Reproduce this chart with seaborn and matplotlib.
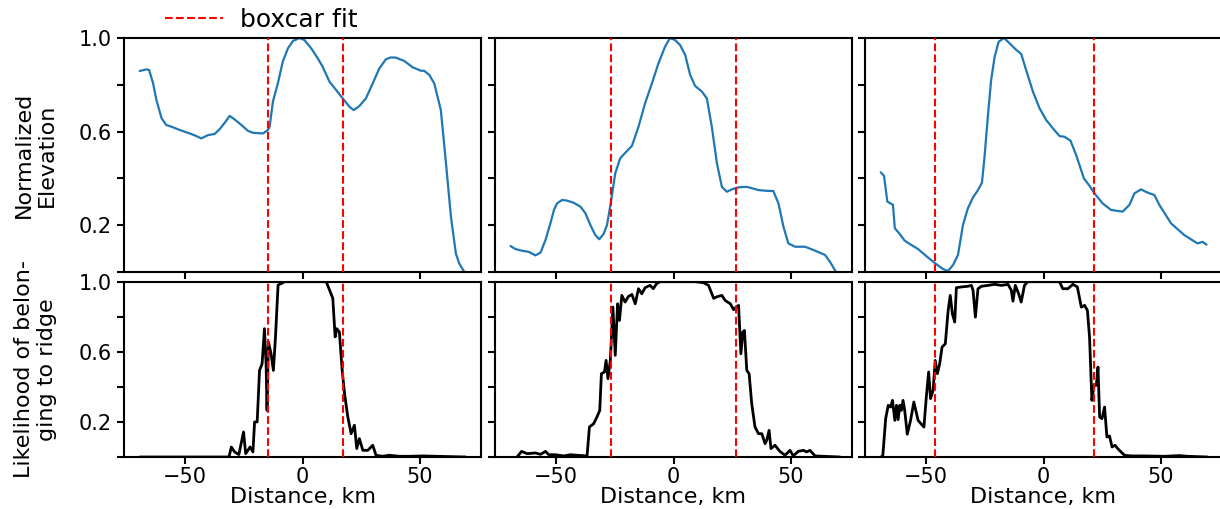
import matplotlib
matplotlib.use("Agg")
import matplotlib.pyplot as plt
from matplotlib.lines import Line2D
import seaborn as sns

# elevation profiles (normalized), one per ridge
elev_x1 = [-69.3, -66.4, -65.3, -63.6, -62.2, -60.0, -58.0, -55.8, -52.3, -48.0, -45.2, -43.1,
           -40.2, -37.4, -35.3, -33.1, -31.0, -28.9, -26.0, -23.2, -21.1, -16.8, -14.7, -14.0,
           -12.6, -10.5, -8.4, -6.2, -4.1, -1.3, 0.85, 3.7, 6.5, 8.6, 11.5, 14.3, 17.1, 20.0,
           21.8, 24.2, 27.0, 29.9, 32.7, 35.5, 37.6, 39.8, 43.3, 46.9, 50.4, 51.8, 54.0, 56.1,
           58.9, 61.1, 63.2, 65.3, 66.7, 68.9]
elev_y1 = [0.859, 0.866, 0.863, 0.806, 0.735, 0.657, 0.628, 0.621, 0.607, 0.592, 0.581, 0.571,
           0.585, 0.590, 0.610, 0.638, 0.667, 0.652, 0.628, 0.603, 0.595, 0.592, 0.607, 0.621,
           0.728, 0.806, 0.899, 0.956, 0.987, 1.0, 0.991, 0.956, 0.913, 0.877, 0.813, 0.778,
           0.742, 0.706, 0.692, 0.709, 0.742, 0.806, 0.870, 0.909, 0.917, 0.916, 0.902, 0.875,
           0.860, 0.860, 0.842, 0.806, 0.692, 0.464, 0.236, 0.079, 0.037, 0.0]

elev_x2 = [-69.4, -67.3, -64.5, -61.6, -58.8, -56.6, -54.5, -52.4, -50.9, -49.6, -47.4, -45.3,
           -42.5, -39.6, -37.5, -35.4, -33.3, -31.6, -29.8, -28.3, -26.5, -24.8, -22.7, -20.5,
           -17.7, -14.9, -12.1, -9.2, -6.4, -3.6, -1.5, 0.7, 2.8, 5.0, 7.1, 9.2, 12.1, 14.2,
           16.3, 18.5, 20.6, 22.7, 24.8, 27.7, 31.2, 36.2, 39.7, 42.5, 44.7, 46.8, 48.9, 51.8,
           56.0, 60.3, 64.5, 66.6, 69.2]
elev_y2 = [0.111, 0.098, 0.091, 0.086, 0.071, 0.083, 0.137, 0.208, 0.265, 0.293, 0.308, 0.305,
           0.296, 0.279, 0.251, 0.201, 0.158, 0.140, 0.162, 0.201, 0.308, 0.422, 0.486, 0.510,
           0.539, 0.621, 0.721, 0.806, 0.892, 0.963, 1.0, 0.991, 0.970, 0.927, 0.842, 0.795,
           0.771, 0.742, 0.621, 0.464, 0.364, 0.343, 0.353, 0.362, 0.364, 0.350, 0.347, 0.346,
           0.293, 0.194, 0.122, 0.108, 0.108, 0.091, 0.073, 0.044, 0.0]

elev_x3 = [-69.3, -67.9, -66.5, -64.1, -63.3, -61.2, -59.1, -56.2, -53.4, -49.9, -45.6, -42.8,
           -40.7, -38.5, -36.4, -34.3, -32.2, -30.0, -27.9, -26.2, -25.1, -23.7, -22.3, -20.8,
           -19.1, -16.8, -14.4, -11.6, -9.5, -7.4, -4.5, -1.7, 1.1, 4.0, 6.8, 8.9, 11.5, 13.9,
           17.2, 19.6, 21.7, 25.2, 28.8, 33.7, 36.6, 38.7, 41.5, 44.4, 47.2, 49.3, 54.3, 59.9,
           65.6, 67.7, 69.4]
elev_y3 = [0.426, 0.411, 0.301, 0.287, 0.187, 0.162, 0.134, 0.115, 0.098, 0.068, 0.033, 0.013,
           0.004, 0.030, 0.073, 0.201, 0.272, 0.319, 0.350, 0.382, 0.493, 0.664, 0.820, 0.920,
           0.984, 1.0, 0.977, 0.949, 0.932, 0.863, 0.771, 0.700, 0.650, 0.614, 0.581, 0.578,
           0.561, 0.500, 0.400, 0.368, 0.336, 0.293, 0.265, 0.258, 0.287, 0.336, 0.353, 0.339,
           0.329, 0.287, 0.208, 0.158, 0.122, 0.129, 0.117]

# likelihood of belonging to ridge
like_x1 = [-69.3, -31.3, -30.3, -28.9, -27.1, -25.1, -24.2, -22.3, -21.1, -20.4, -19.3, -18.3,
           -17.2, -16.2, -15.5, -15.1, -14.5, -13.4, -12.4, -11.5, -10.4, -8.4, -7.7, 10.1,
           11.5, 12.9, 13.9, 14.6, 15.7, 16.9, 17.9, 19.3, 20.7, 22.1, 23.1, 24.2, 25.7, 27.8,
           29.9, 31.3, 34.1, 37.0, 41.2, 45.5, 51.2, 69.5]
like_y1 = [0.0, 0.0, 0.057, 0.029, 0.014, 0.143, 0.019, 0.057, 0.029, 0.200, 0.200, 0.494,
           0.532, 0.732, 0.532, 0.266, 0.656, 0.589, 0.494, 0.685, 0.981, 0.994, 1.0, 1.0,
           0.953, 0.905, 0.685, 0.732, 0.713, 0.494, 0.361, 0.228, 0.133, 0.181, 0.048, 0.105,
           0.038, 0.038, 0.067, 0.010, 0.004, 0.010, 0.004, 0.004, 0.006, 0.0]

like_x2 = [-66.6, -64.7, -62.3, -58.8, -56.6, -54.5, -53.1, -50.3, -46.7, -43.9, -41.1, -36.8,
           -35.8, -34.0, -32.6, -31.4, -30.7, -29.4, -28.7, -27.9, -26.9, -25.8, -24.8, -23.8,
           -23.0, -22.0, -20.6, -19.2, -17.7, -16.3, -14.9, -13.5, -12.1, -10.0, -8.6, -7.2,
           -5.7, 9.2, 12.8, 14.9, 17.1, 18.5, 20.6, 22.0, 24.2, 25.6, 26.6, 27.7, 28.7, 29.5,
           30.2, 31.2, 32.2, 33.3, 34.7, 36.2, 37.6, 39.0, 39.7, 40.7, 41.5, 43.2, 45.3, 47.5,
           49.6, 51.0, 53.1, 55.3, 56.7, 58.1, 60.3, 70.9]
like_y2 = [0.0, 0.032, 0.019, 0.023, 0.015, 0.032, 0.013, 0.013, 0.006, 0.013, 0.010, 0.006,
           0.171, 0.190, 0.228, 0.266, 0.475, 0.485, 0.551, 0.447, 0.551, 0.855, 0.580, 0.874,
           0.779, 0.922, 0.884, 0.916, 0.927, 0.874, 0.960, 0.931, 0.966, 0.979, 0.960, 0.989,
           1.0, 1.0, 0.994, 0.979, 0.905, 0.914, 0.922, 0.893, 0.874, 0.840, 0.855, 0.865,
           0.589, 0.713, 0.722, 0.494, 0.475, 0.304, 0.171, 0.133, 0.133, 0.076, 0.095, 0.152,
           0.048, 0.067, 0.032, 0.010, 0.038, 0.006, 0.032, 0.038, 0.029, 0.038, 0.006, 0.0]

like_x3 = [-69.1, -68.4, -67.2, -66.1, -65.1, -64.3, -63.3, -62.6, -61.9, -61.2, -60.5, -59.8,
           -59.1, -58.0, -56.6, -55.2, -53.4, -52.0, -50.9, -49.9, -48.9, -48.1, -47.0, -46.1,
           -45.2, -44.2, -43.2, -41.8, -40.6, -39.7, -38.8, -37.8, -37.1, -35.0, -32.2, -30.7,
           -30.0, -29.0, -27.9, -26.4, -23.6, -20.8, -17.9, -15.1, -13.7, -13.0, -12.0, -10.6,
           -9.5, -8.1, -6.7, 6.8, 8.2, 10.4, 12.5, 14.4, 16.1, 17.5, 18.7, 19.6, 20.6, 21.5,
           22.5, 23.2, 23.9, 24.9, 26.0, 27.0, 28.1, 29.2, 30.5, 31.6, 33.0, 34.5, 37.3, 43.0,
           51.5, 57.9, 61.4, 69.9]
like_y3 = [0.0, 0.010, 0.219, 0.295, 0.285, 0.323, 0.209, 0.295, 0.213, 0.295, 0.266, 0.323,
           0.266, 0.130, 0.209, 0.314, 0.209, 0.187, 0.171, 0.342, 0.485, 0.333, 0.380, 0.551,
           0.475, 0.532, 0.627, 0.646, 0.836, 0.922, 0.817, 0.770, 0.966, 0.970, 0.974, 0.979,
           0.951, 0.798, 0.960, 0.974, 0.979, 0.985, 0.979, 0.985, 0.951, 0.889, 0.979, 0.932,
           0.884, 0.979, 1.0, 1.0, 0.960, 0.960, 0.985, 0.970, 0.855, 0.865, 0.836, 0.684,
           0.323, 0.409, 0.409, 0.513, 0.228, 0.219, 0.285, 0.114, 0.120, 0.057, 0.067, 0.048,
           0.029, 0.010, 0.006, 0.006, 0.004, 0.008, 0.004, 0.0]

elev_x = [elev_x1, elev_x2, elev_x3]
elev_y = [elev_y1, elev_y2, elev_y3]
like_x = [like_x1, like_x2, like_x3]
like_y = [like_y1, like_y2, like_y3]

# boxcar fit edges, km
box_left = [-14.8, -26.6, -46.0]
box_right = [17.1, 26.5, 21.4]

y_ticks = [0.0, 0.2, 0.4, 0.6, 0.8, 1.0]
y_ticklabels = ["", "0.2", "", "0.6", "", "1.0"]
x_ticks = [-50, 0, 50]

sns.set_style("ticks", {"axes.edgecolor": "black", "xtick.color": "black",
                        "ytick.color": "black", "text.color": "black",
                        "axes.labelcolor": "black"})
plt.rcParams['font.family'] = ['DejaVu Sans']

W, H = 1220, 509
fig = plt.figure(figsize=(W / 100, H / 100), dpi=100)

col_left = [124, 495, 865]
col_width = 357
rows = [(38, 272), (281.7, 457)]  # top, bottom in pixels

axes = []
for r, (top, bot) in enumerate(rows):
    row_axes = []
    for c in range(3):
        ax = fig.add_axes([col_left[c] / W, 1 - bot / H, col_width / W, (bot - top) / H])
        row_axes.append(ax)
    axes.append(row_axes)

for c in range(3):
    ax_e = axes[0][c]
    ax_l = axes[1][c]
    sns.lineplot(x=elev_x[c], y=elev_y[c], ax=ax_e, color="#1f77b4", linewidth=1.6,
                 sort=False, estimator=None)
    sns.lineplot(x=like_x[c], y=like_y[c], ax=ax_l, color="black", linewidth=2,
                 sort=False, estimator=None)
    for ax in (ax_e, ax_l):
        ax.axvline(box_left[c], color="red", ls="--", lw=1.5, zorder=3)
        ax.axvline(box_right[c], color="red", ls="--", lw=1.5, zorder=3)
        ax.set_xlim(-76, 76)
        ax.set_ylim(0, 1)
        ax.set_xticks(x_ticks)
        ax.set_yticks(y_ticks)
        ax.set_yticklabels(y_ticklabels)
        ax.tick_params(labelsize=15, length=5, width=1.5, direction="out")
        ax.tick_params(axis="x", pad=2)
        for sp in ax.spines.values():
            sp.set_linewidth(1.5)
        if c > 0:
            ax.tick_params(labelleft=False)
    ax_e.tick_params(labelbottom=False)
    ax_l.set_xlabel("Distance, km", fontsize=16, labelpad=0)

axes[0][0].set_ylabel("Normalized\nElevation", fontsize=16, labelpad=16)
axes[1][0].set_ylabel("Likelihood of belon-\nging to ridge", fontsize=16, labelpad=16)

handle = Line2D([0], [0], color="red", ls="--", lw=1.5)
fig.legend(handles=[handle], labels=["boxcar fit"], loc="center left",
           bbox_to_anchor=(165 / W, 1 - 20 / H), frameon=False, fontsize=18,
           borderpad=0, borderaxespad=0, handlelength=2.3, handletextpad=0.7)

fig.savefig("out.png", dpi=100)
